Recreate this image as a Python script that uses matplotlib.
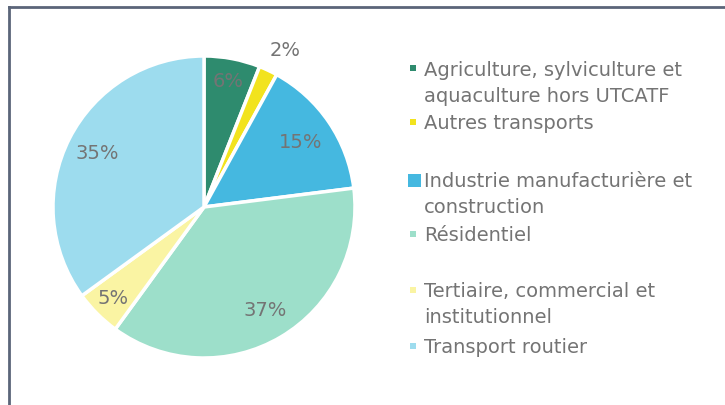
import numpy as np
import matplotlib.pyplot as plt
from matplotlib.lines import Line2D
from matplotlib.patches import Rectangle

# GHG emissions share by sector
sectors = [
    "Agriculture, sylviculture et\naquaculture hors UTCATF",
    "Autres transports",
    "Industrie manufacturière et\nconstruction",
    "Résidentiel",
    "Tertiaire, commercial et\ninstitutionnel",
    "Transport routier",
]
shares = [6, 2, 15, 37, 5, 35]
colors = ["#2e8b6e", "#f2e31e", "#45b8e0", "#9ddfca", "#faf4a3", "#9ddcee"]

W, H = 725, 406
plt.rcParams["font.family"] = ["DejaVu Sans"]
TEXT = "#747474"

fig = plt.figure(figsize=(W / 100, H / 100), dpi=100)

# pie placed in pixel terms: centre (204, 208), radius 151
cx, cy, r = 204, 208, 151
ax = fig.add_axes([(cx - r) / W, (H - cy - r) / H, 2 * r / W, 2 * r / H])
wedges, _ = ax.pie(shares, colors=colors, startangle=90, counterclock=False,
                   radius=1, wedgeprops=dict(edgecolor="white", linewidth=2.5))
ax.set_xlim(-1, 1)
ax.set_ylim(-1, 1)
ax.set_aspect("equal")
ax.axis("off")

# percentage labels, pushed in/out per slice
label_dist = [0.85, 1.17, 0.77, 0.79, 0.85, 0.79]
label_turn = [0, -2, 0, 0, 0, 0]  # small angular nudge, degrees
for w, v, d, t in zip(wedges, shares, label_dist, label_turn):
    ang = np.deg2rad((w.theta1 + w.theta2) / 2 + t)
    ax.text(d * np.cos(ang), d * np.sin(ang), f"{v}%", ha="center", va="center",
            fontsize=14, color=TEXT, clip_on=False)

# legend drawn by hand (Excel-style spacing), one text per line
leg_y = [70, 124, 182, 236, 292, 348]
marker_px = [6, 6, 13, 6, 6, 6]
pitch = 26
for lab, col, y, m in zip(sectors, colors, leg_y, marker_px):
    mx = 413 if m < 10 else 415
    fig.patches.append(Rectangle(((mx - m / 2) / W, (H - y + 1 - m / 2) / H), m / W, m / H,
                                 transform=fig.transFigure, facecolor=col,
                                 edgecolor="none"))
    for i, line in enumerate(lab.split("\n")):
        fig.text(424 / W, (H - y - i * pitch) / H, line, ha="left", va="center",
                 fontsize=14, color=TEXT)

# frame along top and left
border = "#5b6579"
fig.add_artist(Line2D([9 / W, 1], [(H - 8) / H] * 2, color=border, lw=2))
fig.add_artist(Line2D([9 / W] * 2, [0, (H - 8) / H], color=border, lw=2))

fig.savefig("out.png", dpi=100)
